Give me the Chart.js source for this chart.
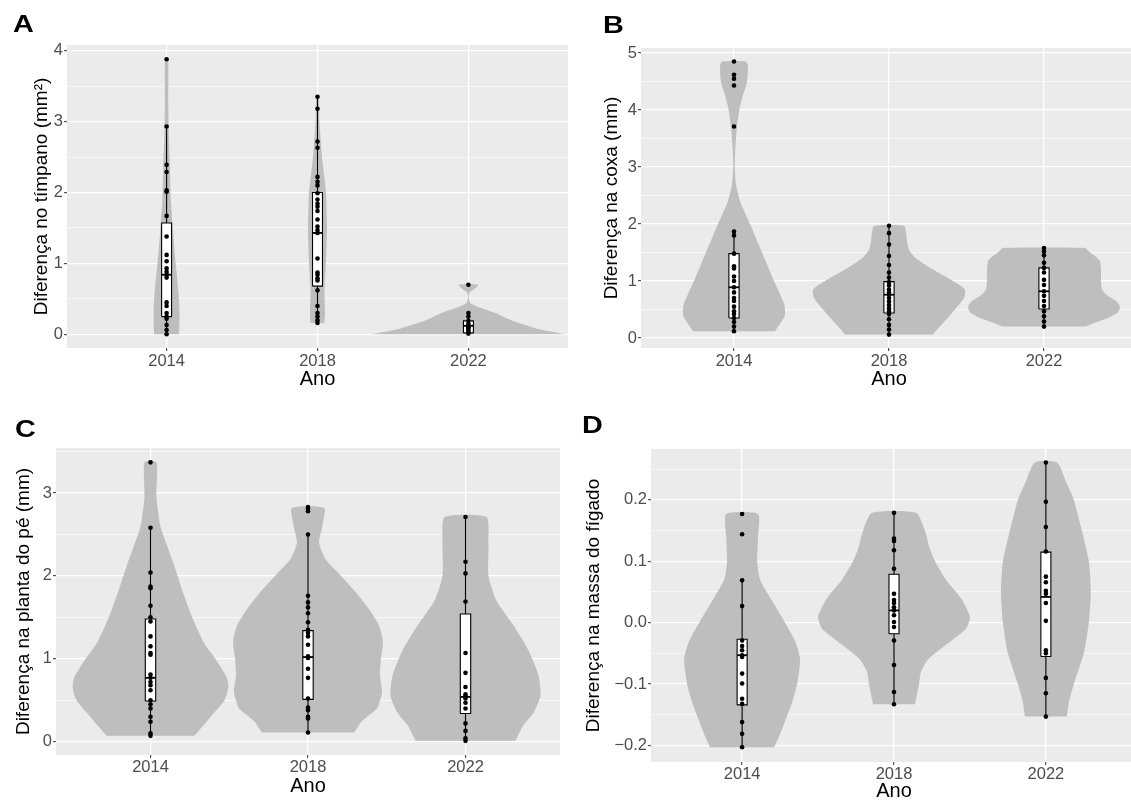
<!DOCTYPE html>
<html>
<head>
<meta charset="utf-8">
<title>Diferenças por ano</title>
<script src="https://cdn.jsdelivr.net/npm/chart.js@4.4.1/dist/chart.umd.min.js"></script>
<style>
  html, body { margin: 0; padding: 0; background: #fff; overflow: hidden; }
  body { width: 1131px; height: 805px; position: relative; }
  canvas { position: absolute; }
</style>
</head>
<body>
<canvas id="pA"></canvas>
<canvas id="pB"></canvas>
<canvas id="pC"></canvas>
<canvas id="pD"></canvas>
<script>
const years = ["2014", "2018", "2022"];

// A - tímpano (mm²): points per year, box stats [lo, q1, median, q3, hi], violin outline (y, half width in x units)
const tympPoints = [
  [3.88, 2.93, 2.39, 2.29, 2.03, 2.01, 1.67, 1.38, 1.12, 1.03, 0.93, 0.88, 0.84, 0.80, 0.45, 0.40, 0.30, 0.25, 0.22, 0.13, 0.06, 0.0],
  [3.35, 3.18, 2.72, 2.63, 2.22, 2.15, 2.10, 1.99, 1.90, 1.84, 1.80, 1.74, 1.62, 1.52, 1.47, 1.43, 1.07, 0.87, 0.84, 0.79, 0.76, 0.62, 0.40, 0.30, 0.25, 0.20, 0.16],
  [0.70, 0.30, 0.25, 0.19, 0.15, 0.12, 0.10, 0.08, 0.05, 0.03, 0.01]
];
const tympBox = [[0.0, 0.25, 0.84, 1.57, 2.93], [0.16, 0.68, 1.43, 2.00, 3.35], [0.0, 0.02, 0.12, 0.19, 0.30]];
const tympViolinY = [
  [0, 0.3, 0.6, 1.0, 1.4, 1.9, 2.35, 2.8, 3.3, 3.88],
  [0.16, 0.3, 0.6, 1.0, 1.5, 2.0, 2.2, 2.5, 3.0, 3.35],
  [0, 0.02, 0.05, 0.09, 0.13, 0.18, 0.24, 0.30, 0.35, 0.40, 0.44, 0.50, 0.56, 0.60, 0.65, 0.70]
];
const tympViolinW = [
  [0.083, 0.086, 0.079, 0.060, 0.044, 0.028, 0.022, 0.015, 0.011, 0.010],
  [0.046, 0.050, 0.046, 0.056, 0.063, 0.056, 0.046, 0.030, 0.013, 0.007],
  [0.642, 0.596, 0.517, 0.437, 0.377, 0.305, 0.238, 0.179, 0.113, 0.046, 0.013, 0.003, 0.003, 0.013, 0.046, 0.066]
];
const tympTicks = [0, 1, 2, 3, 4];
const tympLabels = ["0", "1", "2", "3", "4"];
const tympMinor = [0.5, 1.5, 2.5, 3.5];

// B - coxa (mm)
const coxaPoints = [
  [4.85, 4.62, 4.55, 4.43, 3.71, 1.87, 1.80, 1.48, 1.26, 1.22, 1.08, 1.00, 0.89, 0.80, 0.70, 0.65, 0.55, 0.47, 0.42, 0.35, 0.28, 0.20, 0.12],
  [1.97, 1.84, 1.64, 1.44, 1.28, 1.15, 1.06, 0.98, 0.92, 0.85, 0.80, 0.76, 0.70, 0.64, 0.58, 0.52, 0.47, 0.42, 0.33, 0.23, 0.15, 0.06],
  [1.58, 1.52, 1.45, 1.32, 1.23, 1.15, 1.02, 0.93, 0.82, 0.74, 0.65, 0.56, 0.47, 0.38, 0.29, 0.20]
];
const coxaBox = [[0.12, 0.35, 0.89, 1.48, 1.87], [0.06, 0.44, 0.76, 0.99, 1.97], [0.20, 0.51, 0.82, 1.23, 1.58]];
const coxaViolinY = [
  [0.12, 0.25, 0.4, 0.6, 1.0, 1.5, 2.0, 2.4, 2.7, 3.0, 3.3, 3.7, 4.0, 4.2, 4.5, 4.77, 4.85],
  [0.06, 0.15, 0.3, 0.5, 0.7, 0.85, 1.0, 1.2, 1.4, 1.55, 1.7, 1.85, 1.97],
  [0.2, 0.25, 0.35, 0.45, 0.55, 0.65, 0.75, 0.85, 1.0, 1.2, 1.35, 1.45, 1.52, 1.58]
];
const coxaViolinW = [
  [0.265, 0.297, 0.329, 0.323, 0.258, 0.181, 0.103, 0.039, 0.013, 0.005, 0.008, 0.019, 0.034, 0.052, 0.084, 0.090, 0.077],
  [0.284, 0.310, 0.361, 0.426, 0.484, 0.490, 0.413, 0.284, 0.174, 0.129, 0.116, 0.110, 0.097],
  [0.271, 0.310, 0.413, 0.477, 0.490, 0.465, 0.406, 0.374, 0.368, 0.368, 0.361, 0.323, 0.290, 0.265]
];
const coxaTicks = [0, 1, 2, 3, 4, 5];
const coxaLabels = ["0", "1", "2", "3", "4", "5"];
const coxaMinor = [0.5, 1.5, 2.5, 3.5, 4.5];

// C - planta do pé (mm)
const footPoints = [
  [3.37, 2.58, 2.04, 1.87, 1.85, 1.64, 1.50, 1.45, 1.27, 1.15, 1.07, 1.05, 0.81, 0.77, 0.72, 0.68, 0.62, 0.50, 0.45, 0.40, 0.30, 0.24, 0.10, 0.07],
  [2.83, 2.81, 2.78, 2.50, 1.76, 1.68, 1.62, 1.55, 1.44, 1.35, 1.31, 1.27, 1.17, 1.03, 1.01, 0.88, 0.77, 0.52, 0.41, 0.38, 0.30, 0.28, 0.11],
  [2.71, 2.17, 2.03, 1.69, 1.07, 0.83, 0.66, 0.57, 0.55, 0.52, 0.47, 0.40, 0.22, 0.13, 0.04, 0.01]
];
const footBox = [[0.07, 0.49, 0.77, 1.48, 2.58], [0.11, 0.51, 1.02, 1.34, 2.50], [0.01, 0.34, 0.54, 1.54, 2.71]];
const footViolinY = [
  [0.07, 0.17, 0.34, 0.5, 0.66, 0.78, 0.98, 1.18, 1.38, 1.58, 1.78, 1.93, 2.15, 2.38, 2.6, 2.95, 3.37],
  [0.11, 0.25, 0.4, 0.6, 0.8, 1.0, 1.2, 1.4, 1.6, 1.8, 2.0, 2.2, 2.4, 2.6, 2.82],
  [0.01, 0.2, 0.35, 0.55, 0.8, 1.1, 1.4, 1.7, 2.0, 2.4, 2.71]
];
const footViolinW = [
  [0.279, 0.324, 0.400, 0.470, 0.495, 0.483, 0.419, 0.343, 0.292, 0.248, 0.210, 0.184, 0.146, 0.102, 0.063, 0.038, 0.038],
  [0.292, 0.343, 0.438, 0.470, 0.457, 0.463, 0.476, 0.451, 0.387, 0.305, 0.210, 0.112, 0.070, 0.091, 0.102],
  [0.317, 0.368, 0.432, 0.476, 0.463, 0.400, 0.305, 0.197, 0.146, 0.146, 0.133]
];
const footTicks = [0, 1, 2, 3];
const footLabels = ["0", "1", "2", "3"];
const footMinor = [0.5, 1.5, 2.5, 3.5];

// D - massa do fígado
const liverPoints = [
  [0.177, 0.144, 0.069, 0.027, -0.029, -0.038, -0.045, -0.053, -0.056, -0.083, -0.099, -0.124, -0.132, -0.162, -0.181, -0.203],
  [0.179, 0.137, 0.133, 0.118, 0.088, 0.047, 0.037, 0.032, 0.025, 0.020, 0.012, 0.001, -0.007, -0.029, -0.069, -0.113, -0.133],
  [0.261, 0.197, 0.156, 0.116, 0.075, 0.066, 0.052, 0.047, 0.032, 0.003, -0.045, -0.050, -0.090, -0.115, -0.153]
];
const liverBox = [[-0.203, -0.134, -0.053, -0.027, 0.069], [-0.133, -0.018, 0.020, 0.079, 0.179], [-0.153, -0.055, 0.042, 0.115, 0.261]];
const liverViolinY = [
  [-0.203, -0.185, -0.16, -0.13, -0.1, -0.06, -0.03, 0.0, 0.03, 0.07, 0.1, 0.14, 0.177],
  [-0.133, -0.1, -0.08, -0.06, -0.03, -0.01, 0.01, 0.04, 0.07, 0.1, 0.12, 0.15, 0.179],
  [-0.153, -0.13, -0.1, -0.05, 0.0, 0.05, 0.1, 0.15, 0.2, 0.23, 0.261]
];
const liverViolinW = [
  [0.211, 0.244, 0.283, 0.329, 0.362, 0.382, 0.349, 0.283, 0.211, 0.118, 0.099, 0.105, 0.105],
  [0.138, 0.165, 0.178, 0.224, 0.375, 0.474, 0.500, 0.441, 0.342, 0.270, 0.237, 0.204, 0.145],
  [0.138, 0.151, 0.184, 0.250, 0.283, 0.296, 0.283, 0.237, 0.184, 0.132, 0.074]
];
const liverTicks = [-0.2, -0.1, 0.0, 0.1, 0.2];
const liverLabels = ["\u22120.2", "\u22120.1", "0.0", "0.1", "0.2"];
const liverMinor = [-0.15, -0.05, 0.05, 0.15, 0.25];

const FONT = "'Liberation Sans', Arial, Helvetica, sans-serif";
const VIOLIN = "#BEBEBE";
const BOX_HALF = 0.033;

Chart.defaults.font.family = FONT;
Chart.defaults.animation = false;

// grey ggplot panel behind the grid
const panelBg = {
  id: "panelBg",
  beforeDraw(chart) {
    const { ctx, chartArea: a } = chart;
    ctx.save();
    ctx.fillStyle = "#EBEBEB";
    ctx.fillRect(a.left, a.top, a.right - a.left, a.bottom - a.top);
    ctx.restore();
  }
};

const panelLetter = {
  id: "panelLetter",
  afterDraw(chart, args, opts) {
    const ctx = chart.ctx;
    ctx.save();
    ctx.translate(opts.x, opts.y);
    ctx.scale(1.2, 1);
    ctx.font = "bold 24px " + FONT;
    ctx.fillStyle = "#000";
    ctx.textBaseline = "alphabetic";
    ctx.fillText(opts.text, 0, 0);
    ctx.restore();
  }
};

const panels = [
  { id: "pA", letter: "A", lx: 13, ly: 32, left: 0, top: 0, w: 580, h: 395, area: { l: 67, t: 45, r: 568, b: 348 },
    xMin: 0.34, xMax: 3.66, yMin: -0.193, yMax: 4.08, tickPadX: 1, yTitleX: 42, xTitleY: 379,
    yTitle: "Diferença no tímpano (mm²)",
    points: tympPoints, box: tympBox, violinY: tympViolinY, violinW: tympViolinW,
    ticks: tympTicks, labels: tympLabels, minor: tympMinor },
  { id: "pB", letter: "B", lx: 38, ly: 33, left: 565, top: 0, w: 580, h: 395, area: { l: 76, t: 48, r: 572, b: 348 },
    xMin: 0.4, xMax: 3.6, yMin: -0.175, yMax: 5.088, tickPadX: 1, yTitleX: 47, xTitleY: 379,
    yTitle: "Diferença na coxa (mm)",
    points: coxaPoints, box: coxaBox, violinY: coxaViolinY, violinW: coxaViolinW,
    ticks: coxaTicks, labels: coxaLabels, minor: coxaMinor },
  { id: "pC", letter: "C", lx: 15, ly: 37, left: 0, top: 400, w: 570, h: 405, area: { l: 56, t: 48, r: 560, b: 355 },
    xMin: 0.4, xMax: 3.6, yMin: -0.161, yMax: 3.543, tickPadX: 0, yTitleX: 24, xTitleY: 386,
    yTitle: "Diferença na planta do pé (mm)",
    points: footPoints, box: footBox, violinY: footViolinY, violinW: footViolinW,
    ticks: footTicks, labels: footLabels, minor: footMinor },
  { id: "pD", letter: "D", lx: 17, ly: 33, left: 565, top: 400, w: 580, h: 405, area: { l: 86, t: 49, r: 572, b: 362 },
    xMin: 0.4, xMax: 3.6, yMin: -0.227, yMax: 0.283, tickPadX: 0, yTitleX: 29, xTitleY: 391,
    yTitle: "Diferença na massa do fígado",
    points: liverPoints, box: liverBox, violinY: liverViolinY, violinW: liverViolinW,
    ticks: liverTicks, labels: liverLabels, minor: liverMinor }
];

function majorIndex(p, v) {
  return p.ticks.findIndex((t) => Math.abs(t - v) < 1e-9);
}

function makePanel(p) {
  const canvas = document.getElementById(p.id);
  canvas.width = p.w;
  canvas.height = p.h;
  canvas.style.left = p.left + "px";
  canvas.style.top = p.top + "px";

  const datasets = [];
  years.forEach((yr, i) => {
    const c = i + 1;
    const ys = p.violinY[i];
    const ws = p.violinW[i];
    const right = ys.map((y, k) => ({ x: c + ws[k], y }));
    const left = ys.map((y, k) => ({ x: c - ws[k], y })).reverse();
    datasets.push({
      type: "line", data: right.concat(left), fill: "shape", backgroundColor: VIOLIN,
      borderColor: "rgba(0,0,0,0)", borderWidth: 0, pointRadius: 0, tension: 0.2, order: 4
    });
    const [lo, q1, med, q3, hi] = p.box[i];
    datasets.push({
      type: "line", data: [{ x: c, y: lo }, { x: c, y: hi }], fill: false,
      borderColor: "#000", borderWidth: 1.1, pointRadius: 0, order: 3
    });
    datasets.push({
      type: "line",
      data: [
        { x: c - BOX_HALF, y: q1 }, { x: c + BOX_HALF, y: q1 }, { x: c + BOX_HALF, y: q3 },
        { x: c - BOX_HALF, y: q3 }, { x: c - BOX_HALF, y: q1 }
      ],
      fill: "shape", backgroundColor: "#FFFFFF", borderColor: "#000", borderWidth: 1.1,
      pointRadius: 0, tension: 0, order: 2
    });
    datasets.push({
      type: "line", data: [{ x: c - BOX_HALF, y: med }, { x: c + BOX_HALF, y: med }], fill: false,
      borderColor: "#000", borderWidth: 1.8, pointRadius: 0, order: 1
    });
    datasets.push({
      type: "scatter", data: p.points[i].map((y) => ({ x: c, y })),
      pointRadius: 2.3, pointBackgroundColor: "#000", pointBorderWidth: 0, order: 0
    });
  });

  const yTickValues = p.ticks.concat(p.minor).sort((a, b) => a - b);

  return new Chart(canvas, {
    type: "scatter",
    data: { datasets },
    plugins: [panelBg, panelLetter],
    options: {
      responsive: false,
      devicePixelRatio: 1,
      events: [],
      layout: { autoPadding: false, padding: { left: 0, top: p.area.t, right: p.w - p.area.r, bottom: 0 } },
      plugins: {
        legend: { display: false },
        tooltip: { enabled: false },
        panelLetter: { text: p.letter, x: p.lx, y: p.ly }
      },
      scales: {
        x: {
          type: "linear", min: p.xMin, max: p.xMax,
          afterBuildTicks: (s) => { s.ticks = years.map((y, i) => ({ value: i + 1 })); },
          afterFit: (s) => { s.height = p.h - p.area.b; },
          border: { display: false },
          grid: { color: "#FFFFFF", lineWidth: 1.3, tickColor: "#333333", tickLength: 3, tickWidth: 1 },
          ticks: {
            autoSkip: false, maxRotation: 0, padding: p.tickPadX, color: "#4D4D4D",
            font: { size: 16.5 },
            callback: (v) => years[Math.round(v) - 1]
          },
          title: {
            display: true, text: "Ano", color: "#000", font: { size: 20 },
            padding: { top: 0, bottom: p.h - p.xTitleY - 12 }
          }
        },
        y: {
          type: "linear", min: p.yMin, max: p.yMax,
          afterBuildTicks: (s) => { s.ticks = yTickValues.map((v) => ({ value: v })); },
          afterFit: (s) => { s.width = p.area.l; },
          border: { display: false },
          grid: {
            color: "#FFFFFF",
            lineWidth: (c) => (c.tick && majorIndex(p, c.tick.value) >= 0 ? 1.3 : 0.6),
            tickColor: (c) => (c.tick && majorIndex(p, c.tick.value) >= 0 ? "#333333" : "rgba(0,0,0,0)"),
            tickLength: 3, tickWidth: 1
          },
          ticks: {
            autoSkip: false, padding: 1, color: "#4D4D4D", font: { size: 16.5 },
            callback: (v) => {
              const k = majorIndex(p, v);
              return k >= 0 ? p.labels[k] : "";
            }
          },
          title: {
            display: true, text: p.yTitle, color: "#000", font: { size: 19 },
            padding: { top: p.yTitleX - 11.4, bottom: 0 }
          }
        }
      }
    }
  });
}

panels.forEach(makePanel);
</script>
</body>
</html>
